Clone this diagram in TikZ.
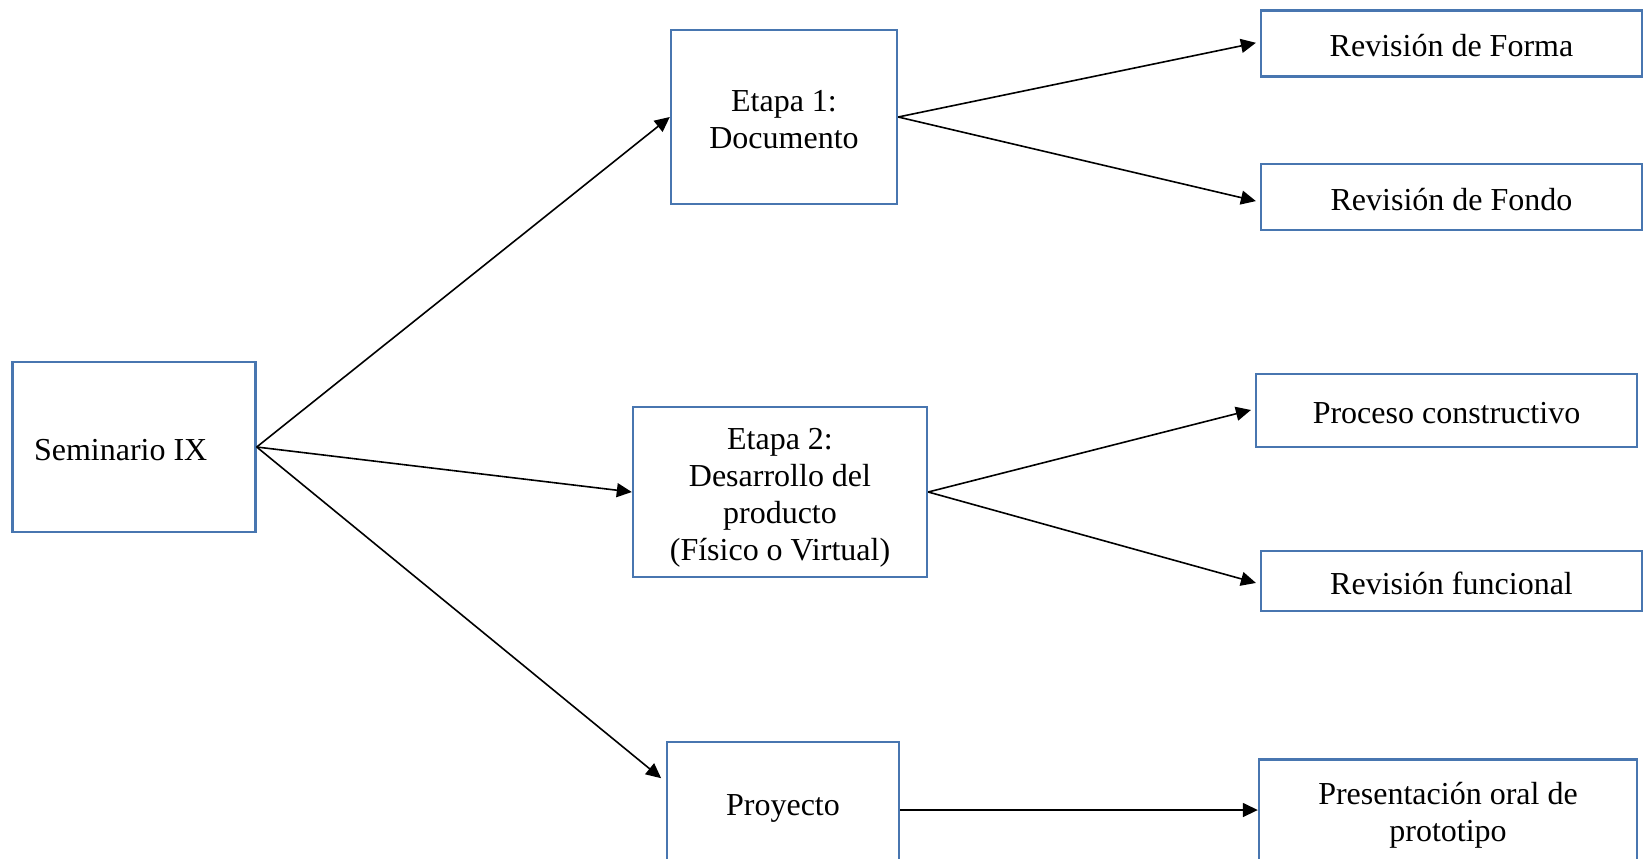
\documentclass[tikz,border=0pt]{standalone}
\usepackage{fontspec}
\setmainfont{Liberation Serif}
\usetikzlibrary{arrows.meta}
\definecolor{boxblue}{RGB}{72,118,176}
\newcommand{\firststrut}{\rule{0pt}{16.6pt}}
\tikzset{
  box/.style={draw=boxblue, line width=1.2pt, fill=white, align=center, inner sep=2pt,
    font=\fontsize{16}{18.5}\selectfont,
    execute at begin node={\firststrut},
    execute at end node={\rule[-3.6pt]{0pt}{3.6pt}}},
  link/.style={draw=black, line width=0.8pt, -{Triangle[length=7.5pt,width=7pt]}}
}
\begin{document}
\begin{tikzpicture}[x=0.5pt,y=-0.5pt]
			%%%%% START %%%%%
			\clip (0,0) rectangle (1645,858);
			
			\node[box, minimum width=121.5pt, minimum height=85pt, align=flush left, text width=100pt] (sem) at (134, 447) {Seminario IX};
			
			\node[box, minimum width=113pt, minimum height=87pt] (etapa1) at (784, 117) {\firststrut Etapa 1:\\Documento};
			\node[box, minimum width=147pt, minimum height=85pt] (etapa2) at (780, 492) {\firststrut Etapa 2:\\Desarrollo del\\producto\\(Físico o Virtual)};
			\node[box, minimum width=116pt, minimum height=60pt] (proy) at (783, 802) {Proyecto};
			
			\node[box, minimum width=190.5pt, minimum height=33pt] (forma) at (1451.5, 43.5) {Revisión de Forma};
			\node[box, minimum width=190.5pt, minimum height=33pt] (fondo) at (1451.5, 197) {Revisión de Fondo};
			\node[box, minimum width=190.5pt, minimum height=36.5pt] (proceso) at (1446.5, 410.5) {Proceso constructivo};
			\node[box, minimum width=190.5pt, minimum height=30pt] (funcional) at (1451.5, 581) {Revisión funcional};
			\node[box, minimum width=189pt, minimum height=50.5pt] (oral) at (1448, 810) {\firststrut Presentación oral de\\prototipo};
			
			\draw[link] (sem.east) -- (etapa1.west);
			\draw[link] (sem.east) -- (etapa2.west);
			\draw[link, shorten >=3pt] (sem.east) -- ([yshift=10pt]proy.west);
			
			\draw[link, shorten >=2pt] (etapa1.east) -- ([yshift=0.75pt]forma.west);
			\draw[link, shorten >=2pt] (etapa1.east) -- ([yshift=-2.5pt]fondo.west);
			\draw[link, shorten >=2pt] (etapa2.east) -- ([yshift=0.75pt]proceso.west);
			\draw[link, shorten >=2pt] (etapa2.east) -- ([yshift=-1.5pt]funcional.west);
			\draw[link] ([yshift=-4pt]proy.east) -- ([yshift=-4pt]proy.east -| oral.west);
			
			%%%%% END %%%%%
\end{tikzpicture}
\end{document}
